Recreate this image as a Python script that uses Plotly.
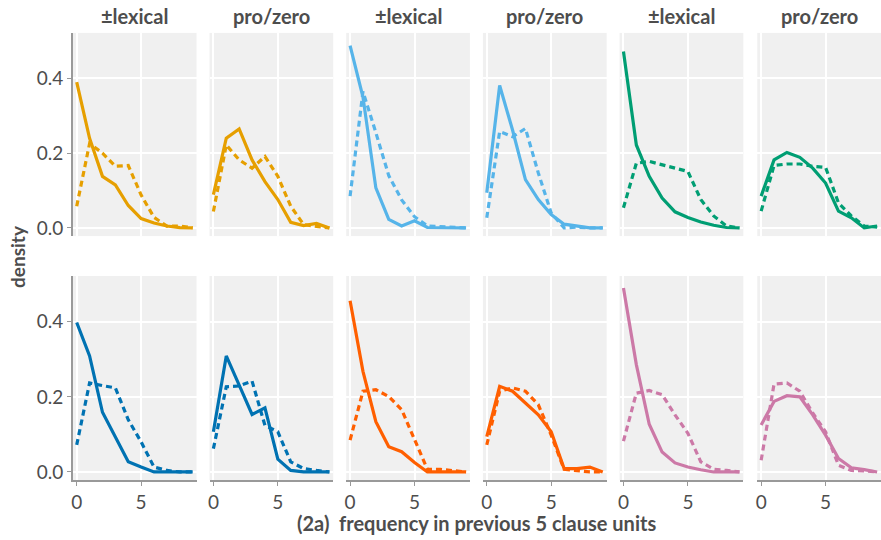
import plotly.graph_objects as go

# ---------------- data ----------------
x_vals = [0, 1, 2, 3, 4, 5, 6, 7, 8, 9]
col_titles = ["±lexical", "pro/zero", "±lexical", "pro/zero", "±lexical", "pro/zero"]
x_ticks = [0, 5]
y_ticks = [0.0, 0.2, 0.4]
y_tick_labels = ["0.0", "0.2", "0.4"]
x_title = "(2a)  frequency in previous 5 clause units"
y_title = "density"

# top row
orange_lex_solid = [0.39, 0.24, 0.138, 0.115, 0.06, 0.025, 0.013, 0.005, 0.001, 0.0]
orange_lex_dash = [0.058, 0.226, 0.2, 0.165, 0.167, 0.088, 0.028, 0.005, 0.005, 0.0]
orange_pro_solid = [0.089, 0.24, 0.265, 0.182, 0.124, 0.076, 0.015, 0.006, 0.012, 0.0]
orange_pro_dash = [0.044, 0.222, 0.182, 0.16, 0.191, 0.138, 0.058, 0.009, 0.004, 0.0]
sky_lex_solid = [0.488, 0.35, 0.107, 0.023, 0.005, 0.019, 0.001, 0.0, 0.0, 0.0]
sky_lex_dash = [0.085, 0.365, 0.255, 0.14, 0.075, 0.03, 0.005, 0.003, 0.001, 0.0]
sky_pro_solid = [0.094, 0.381, 0.262, 0.129, 0.076, 0.036, 0.01, 0.005, 0.0, 0.0]
sky_pro_dash = [0.027, 0.258, 0.244, 0.266, 0.147, 0.04, 0.0, 0.002, 0.0, 0.0]
green_lex_solid = [0.472, 0.222, 0.138, 0.08, 0.043, 0.028, 0.016, 0.007, 0.001, 0.0]
green_lex_dash = [0.054, 0.173, 0.178, 0.169, 0.16, 0.151, 0.076, 0.032, 0.005, 0.0]
green_pro_solid = [0.085, 0.182, 0.202, 0.189, 0.16, 0.12, 0.045, 0.027, 0.0, 0.005]
green_pro_dash = [0.045, 0.167, 0.171, 0.171, 0.165, 0.162, 0.067, 0.032, 0.005, 0.002]

# bottom row
blue_lex_solid = [0.398, 0.309, 0.159, 0.094, 0.027, 0.013, 0.0, 0.0, 0.0, 0.0]
blue_lex_dash = [0.072, 0.237, 0.23, 0.224, 0.139, 0.08, 0.013, 0.004, 0.0, 0.0]
blue_pro_solid = [0.107, 0.309, 0.231, 0.153, 0.171, 0.034, 0.004, 0.0, 0.0, 0.0]
blue_pro_dash = [0.062, 0.227, 0.229, 0.242, 0.124, 0.107, 0.027, 0.009, 0.004, 0.0]
verm_lex_solid = [0.456, 0.268, 0.134, 0.067, 0.054, 0.025, 0.0, 0.0, 0.0, 0.0]
verm_lex_dash = [0.085, 0.215, 0.219, 0.201, 0.166, 0.089, 0.007, 0.007, 0.004, 0.0]
verm_pro_solid = [0.094, 0.228, 0.215, 0.183, 0.152, 0.107, 0.009, 0.009, 0.013, 0.0]
verm_pro_dash = [0.072, 0.215, 0.224, 0.215, 0.179, 0.098, 0.007, 0.004, 0.0, 0.0]
pink_lex_solid = [0.49, 0.286, 0.127, 0.053, 0.024, 0.013, 0.006, 0.0, 0.0, 0.0]
pink_lex_dash = [0.082, 0.21, 0.217, 0.206, 0.152, 0.103, 0.027, 0.007, 0.004, 0.0]
pink_pro_solid = [0.125, 0.188, 0.203, 0.2, 0.152, 0.098, 0.036, 0.011, 0.006, 0.0]
pink_pro_dash = [0.031, 0.234, 0.237, 0.215, 0.157, 0.107, 0.018, 0.004, 0.003, 0.0]

top_colors = ["#E69F00", "#E69F00", "#56B4E9", "#56B4E9", "#009E73", "#009E73"]
bottom_colors = ["#0072B2", "#0072B2", "#FF5F00", "#FF5F00", "#CC79A7", "#CC79A7"]

top_solid = [orange_lex_solid, orange_pro_solid, sky_lex_solid, sky_pro_solid, green_lex_solid, green_pro_solid]
top_dash = [orange_lex_dash, orange_pro_dash, sky_lex_dash, sky_pro_dash, green_lex_dash, green_pro_dash]
bottom_solid = [blue_lex_solid, blue_pro_solid, verm_lex_solid, verm_pro_solid, pink_lex_solid, pink_pro_solid]
bottom_dash = [blue_lex_dash, blue_pro_dash, verm_lex_dash, verm_pro_dash, pink_lex_dash, pink_pro_dash]

# ---------------- layout geometry (pixels) ----------------
W, H = 881, 540
panel_left = [71, 208, 345, 482, 619, 757]
panel_w = 124
row_top = [33, 277]
row_bot = [237, 482]

TEXT = "#4d4d4d"
FONT = "Lato"

fig = go.Figure()
layout = dict(
    width=W, height=H,
    margin=dict(l=0, r=0, t=0, b=0),
    paper_bgcolor="white",
    plot_bgcolor="#F0F0F0",
    showlegend=False,
    font=dict(family=FONT, color=TEXT, size=15),
)

idx = 0
for r in range(2):
    solids = top_solid if r == 0 else bottom_solid
    dashes = top_dash if r == 0 else bottom_dash
    colors = top_colors if r == 0 else bottom_colors
    for c in range(6):
        idx += 1
        xa = "x" if idx == 1 else f"x{idx}"
        ya = "y" if idx == 1 else f"y{idx}"
        fig.add_trace(go.Scatter(x=x_vals, y=dashes[c], mode="lines", xaxis=xa, yaxis=ya,
                                 line=dict(color=colors[c], width=3.2, dash="6px,4px"),
                                 hoverinfo="skip"))
        fig.add_trace(go.Scatter(x=x_vals, y=solids[c], mode="lines", xaxis=xa, yaxis=ya,
                                 line=dict(color=colors[c], width=3.2),
                                 hoverinfo="skip"))
        x0 = panel_left[c] / W
        x1 = (panel_left[c] + panel_w) / W
        y0 = 1 - row_bot[r] / H
        y1 = 1 - row_top[r] / H
        xkey = "xaxis" if idx == 1 else f"xaxis{idx}"
        ykey = "yaxis" if idx == 1 else f"yaxis{idx}"
        bottom = (r == 1)
        left = (c == 0)
        layout[xkey] = dict(
            domain=[x0, x1], anchor=ya, range=[-0.3, 9.3],
            tickvals=x_ticks, ticktext=[str(v) for v in x_ticks],
            showticklabels=bottom, ticks="outside" if bottom else "",
            ticklen=4, tickwidth=1, tickcolor="#999999",
            showline=bottom, linecolor="#999999", linewidth=1.5,
            showgrid=True, gridcolor="white", gridwidth=2, zeroline=False,
            tickfont=dict(family=FONT, color=TEXT, size=19),
            fixedrange=True,
        )
        layout[ykey] = dict(
            domain=[y0, y1], anchor=xa, range=[-0.022, 0.522],
            tickvals=y_ticks, ticktext=y_tick_labels,
            showticklabels=left, ticks="outside" if left else "",
            ticklen=4, tickwidth=1, tickcolor="#999999",
            showline=left, linecolor="#999999", linewidth=1.5,
            showgrid=True, gridcolor="white", gridwidth=2, zeroline=False,
            tickfont=dict(family=FONT, color=TEXT, size=19),
            fixedrange=True,
        )

annotations = []
for c in range(6):
    annotations.append(dict(
        x=(panel_left[c] + panel_w / 2) / W, y=1 - 16 / H, xref="paper", yref="paper",
        text=f"<b>{col_titles[c]}</b>", showarrow=False,
        font=dict(family=FONT, color=TEXT, size=20), xanchor="center", yanchor="middle"))
annotations.append(dict(
    x=(panel_left[0] + panel_left[5] + panel_w) / 2 / W, y=1 - 525 / H, xref="paper", yref="paper",
    text=f"<b>{x_title}</b>", showarrow=False,
    font=dict(family=FONT, color=TEXT, size=20), xanchor="center", yanchor="middle"))
annotations.append(dict(
    x=15 / W, y=1 - 257 / H, xref="paper", yref="paper",
    text=f"<b>{y_title}</b>", showarrow=False, textangle=-90,
    font=dict(family=FONT, color=TEXT, size=19), xanchor="center", yanchor="middle"))
layout["annotations"] = annotations

fig.update_layout(**layout)
fig.write_html("out.html", config={"displayModeBar": False},
               post_script="document.body.style.margin='0';")
